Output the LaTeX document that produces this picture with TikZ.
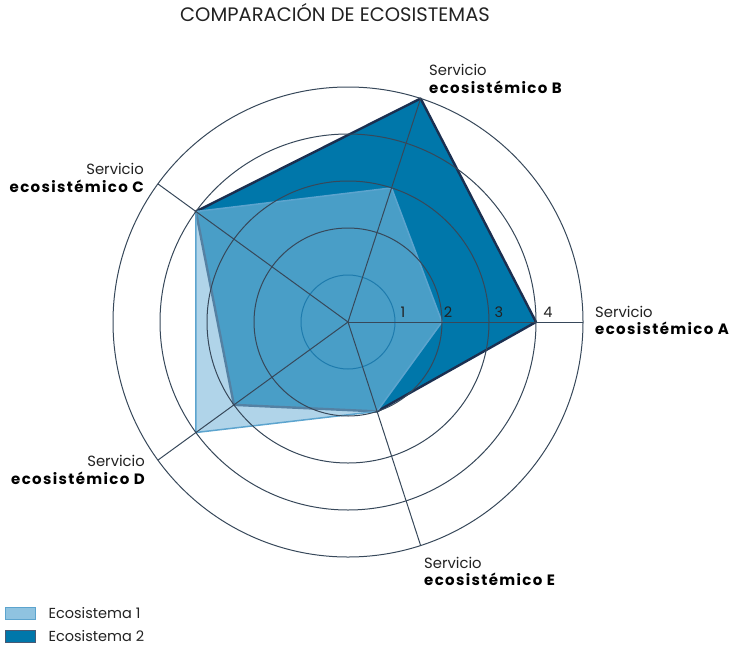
\documentclass[tikz,border=0pt]{standalone}
\usepackage{fontspec}
\setmainfont{Poppins}
\usetikzlibrary{positioning}

\definecolor{ecodark}{HTML}{0077AA}
\definecolor{ecolight}{HTML}{7BB8DB}
\definecolor{ecoline}{HTML}{5CA4CE}
\definecolor{navyline}{HTML}{1B2F50}
\definecolor{gridgray}{HTML}{37485A}
\definecolor{ringblue}{HTML}{1E7BAD}
\definecolor{textgray}{HTML}{222222}

\tikzset{
  grid line/.style={draw=gridgray, line width=1pt},
  first ring/.style={draw=ringblue, line width=1pt},
  eco one/.style={fill=ecolight, fill opacity=0.6, draw=ecoline, line width=1.5pt, line join=round},
  eco two/.style={fill=ecodark, draw=navyline, line width=2.4pt, line join=round},
  service/.style={font=\fontsize{14.8}{16}\selectfont, text=textgray, inner sep=0pt},
  service bold/.style={font=\fontsize{15}{17}\selectfont\bfseries\addfontfeature{LetterSpace=9}, text=black, inner sep=0pt},
  tick label/.style={font=\fontsize{14.5}{16}\selectfont, text=textgray, inner sep=0pt},
  legend box/.style={minimum width=30pt, minimum height=12pt, inner sep=0pt, line width=0.9pt},
  legend text/.style={font=\fontsize{14.5}{16}\selectfont, text=textgray, inner sep=0pt},
}

\begin{document}
\begin{tikzpicture}[x=1pt, y=-1pt]
\useasboundingbox (0,0) rectangle (733,653);
% title
\node[font=\fontsize{19.5}{21}\selectfont, text=textgray, anchor=base] (title) at (335,21) {COMPARACIÓN DE ECOSISTEMAS};

\begin{scope}[shift={(348,322)}, yscale=-1]
  \coordinate (O) at (0,0);
% Ecosistema 2
  \coordinate (twoA) at (0:188);
  \coordinate (twoB) at (72:235);
  \coordinate (twoC) at (144:188);
  \coordinate (twoD) at (216:141);
  \coordinate (twoE) at (288:94);
  \draw[eco two] (twoA) -- (twoB) -- (twoC) -- (twoD) -- (twoE) -- cycle;
% Ecosistema 1
  \coordinate (oneA) at (0:94);
  \coordinate (oneB) at (72:141);
  \coordinate (oneC) at (144:188);
  \coordinate (oneD) at (216:188);
  \coordinate (oneE) at (288:94);
  \draw[eco one] (oneA) -- (oneB) -- (oneC) -- (oneD) -- (oneE) -- cycle;
% rings
  \draw[first ring] (O) circle[radius=47];
  \foreach \r in {94,141,188,235}
    \draw[grid line] (O) circle[radius=\r];
% axes
  \draw[grid line] (O) -- (0:235) coordinate (axA);
  \draw[grid line] (O) -- (72:235) coordinate (axB);
  \draw[grid line] (O) -- (144:235) coordinate (axC);
  \draw[grid line] (O) -- (216:235) coordinate (axD);
  \draw[grid line] (O) -- (288:235) coordinate (axE);
% scale values
  \node[tick label] (t1) at (55,10) {1};
  \node[tick label] (t2) at (100,10) {2};
  \node[tick label] (t3) at (151,10) {3};
  \node[tick label] (t4) at (200,10) {4};
\end{scope}

% axis labels
\node[service, anchor=base west] (srvA) at (595,317) {Servicio};
\node[service bold, anchor=base west] (ecoA) at (595,334) {ecosistémico A};
\node[service, anchor=base west] (srvB) at (429,75) {Servicio};
\node[service bold, anchor=base west] (ecoB) at (429,93) {ecosistémico B};
\node[service, anchor=base east] (srvC) at (144,174) {Servicio};
\node[service bold, anchor=base east] (ecoC) at (144,192) {ecosistémico C};
\node[service, anchor=base east] (srvD) at (145,466) {Servicio};
\node[service bold, anchor=base east] (ecoD) at (145,484) {ecosistémico D};
\node[service, anchor=base west] (srvE) at (424,568) {Servicio};
\node[service bold, anchor=base west] (ecoE) at (424,585) {ecosistémico E};

% legend
\node[legend box, fill=ecolight!85, draw=ecoline] (key1) at (20,613) {};
\node[legend box, fill=ecodark, draw=navyline!80] (key2) at (20,636) {};
\node[legend text, anchor=west, right=13pt of key1] (leg1) {Ecosistema 1};
\node[legend text, anchor=west, right=13pt of key2] (leg2) {Ecosistema 2};
\end{tikzpicture}
\end{document}
